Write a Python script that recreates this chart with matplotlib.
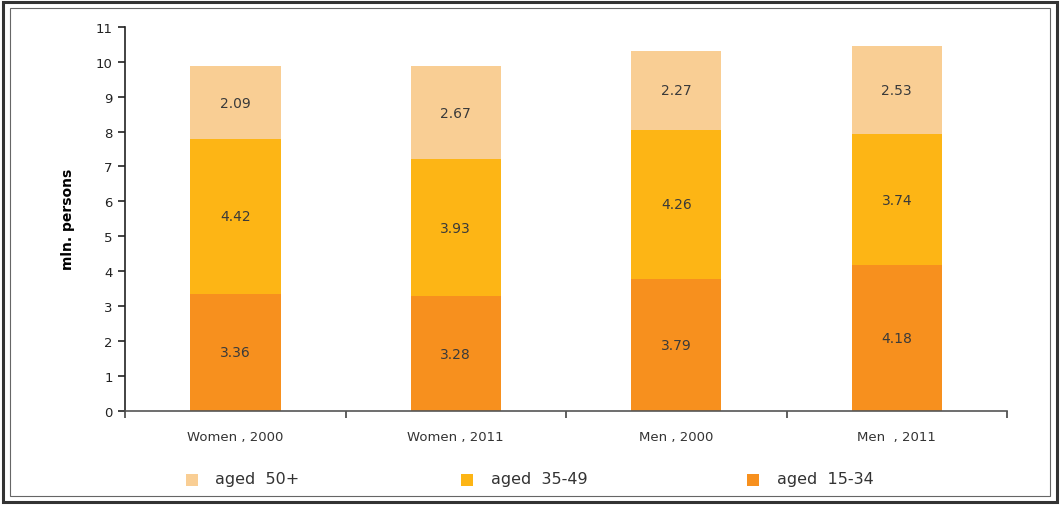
import numpy as np
import matplotlib.pyplot as plt
from matplotlib.patches import Rectangle

categories = ['Women , 2000', 'Women , 2011', 'Men , 2000', 'Men  , 2011']
aged_15_34 = [3.36, 3.28, 3.79, 4.18]
aged_35_49 = [4.42, 3.93, 4.26, 3.74]
aged_50 = [2.09, 2.67, 2.27, 2.53]
series_names = ['aged  50+', 'aged  35-49', 'aged  15-34']

c_low = '#F7901E'
c_mid = '#FDB515'
c_top = '#F9CE94'

fig = plt.figure(figsize=(10.6, 5.06), dpi=100)
ax = fig.add_axes([0.118, 0.186, 0.832, 0.759])

x = np.arange(len(categories))
w = 0.41
low = np.array(aged_15_34)
mid = np.array(aged_35_49)
top = np.array(aged_50)

b1 = ax.bar(x, low, w, color=c_low, edgecolor='none')
b2 = ax.bar(x, mid, w, bottom=low, color=c_mid, edgecolor='none')
b3 = ax.bar(x, top, w, bottom=low + mid, color=c_top, edgecolor='none')

# value labels in the middle of each block
for vals, base in [(low, np.zeros(4)), (mid, low), (top, low + mid)]:
    for i, v in enumerate(vals):
        ax.text(x[i], base[i] + v / 2, f'{v:.2f}', ha='center', va='center',
                fontsize=10, color='#3a3a3a')

ax.set_xlim(-0.5, len(categories) - 0.5)
ax.set_ylim(0, 11)
ax.set_yticks(range(0, 12))
ax.tick_params(axis='y', labelsize=9.5, length=5, width=1.2, colors='#222222', pad=4)
ax.set_xticks(x)
ax.set_xticklabels(categories, fontsize=9.5, color='#333333')
ax.tick_params(axis='x', which='major', length=0, pad=14)
ax.set_xticks(np.arange(-0.5, len(categories)), minor=True)
ax.tick_params(axis='x', which='minor', length=5, width=1.2, color='#444444')

for s in ['top', 'right']:
    ax.spines[s].set_visible(False)
ax.spines['left'].set_linewidth(1.2)
ax.spines['bottom'].set_linewidth(1.2)
ax.spines['bottom'].set_color('#555555')
ax.spines['left'].set_color('#222222')

ax.set_ylabel('mln. persons', fontsize=10, fontweight='bold', labelpad=15)

# legend row along the bottom
leg_colors = [c_top, c_mid, c_low]
leg_x = [0.175, 0.435, 0.705]
for col, name, lx in zip(leg_colors, series_names, leg_x):
    fig.patches.append(Rectangle((lx, 0.038), 0.0115, 0.024,
                                 transform=fig.transFigure,
                                 facecolor=col, edgecolor='none'))
    fig.text(lx + 0.028, 0.052, name, fontsize=11.5, color='#333333', va='center')

# double frame around the whole picture
fig.patches.append(Rectangle((0.003, 0.005), 0.994, 0.99, transform=fig.transFigure,
                             fill=False, edgecolor='#333333', linewidth=2.2))
fig.patches.append(Rectangle((0.0095, 0.018), 0.981, 0.965, transform=fig.transFigure,
                             fill=False, edgecolor='#666666', linewidth=0.8))

fig.savefig('out.png', dpi=100)
